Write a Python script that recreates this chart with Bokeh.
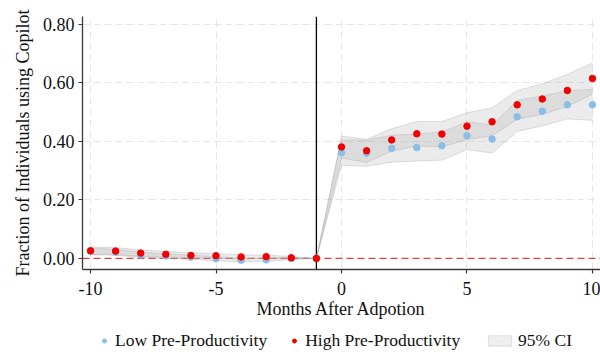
from bokeh.plotting import figure
from bokeh.layouts import column
from bokeh.models import (Range1d, FixedTicker, NumeralTickFormatter, Span,
                          Legend, LegendItem)
from bokeh.embed import file_html
from bokeh.resources import INLINE

# ---- data ----
months = [-10, -9, -8, -7, -6, -5, -4, -3, -2, -1,
          0, 1, 2, 3, 4, 5, 6, 7, 8, 9, 10]

low = [0.024, 0.021, 0.012, 0.008, 0.004, -0.001, -0.006, -0.005, 0.000, 0.0,
       0.361, 0.360, 0.376, 0.379, 0.385, 0.419, 0.408, 0.484, 0.503, 0.525, 0.525]
low_hi = [0.035, 0.031, 0.021, 0.016, 0.011, 0.006, 0.000, 0.001, 0.004, 0.0,
          0.405, 0.404, 0.421, 0.425, 0.432, 0.467, 0.456, 0.540, 0.555, 0.573, 0.578]
low_lo = [0.013, 0.011, 0.003, 0.000, -0.003, -0.008, -0.012, -0.011, -0.004, 0.0,
          0.318, 0.315, 0.329, 0.333, 0.336, 0.372, 0.360, 0.434, 0.453, 0.477, 0.472]

high = [0.026, 0.025, 0.018, 0.014, 0.010, 0.009, 0.005, 0.006, 0.002, 0.0,
        0.381, 0.368, 0.405, 0.426, 0.425, 0.452, 0.467, 0.525, 0.545, 0.574, 0.615]
high_hi = [0.039, 0.037, 0.029, 0.024, 0.019, 0.017, 0.012, 0.012, 0.006, 0.0,
           0.418, 0.407, 0.443, 0.468, 0.468, 0.498, 0.515, 0.574, 0.597, 0.629, 0.668]
high_lo = [0.013, 0.013, 0.007, 0.004, 0.001, 0.001, -0.002, 0.000, -0.002, 0.0,
           0.343, 0.328, 0.367, 0.384, 0.382, 0.406, 0.419, 0.476, 0.493, 0.519, 0.562]

x_ticks = [-10, -5, 0, 5, 10]
x_tick_labels = ["-10", "-5", "0", "5", "10"]
y_ticks = [0.0, 0.2, 0.4, 0.6, 0.8]
adoption_ref = -1

FONT = "Liberation Serif"
BLUE = "#89bee6"
RED = "#f00000"

p = figure(width=600, height=326, output_backend="svg", toolbar_location=None,
           x_range=Range1d(-10.32, 10.32), y_range=Range1d(-0.038, 0.827),
           min_border_left=82, min_border_right=0, min_border_top=16,
           min_border_bottom=57)
p.outline_line_color = None
p.background_fill_color = "white"
p.border_fill_color = "white"

# axes
for ax in (p.xaxis[0], p.yaxis[0]):
    ax.axis_line_color = "#3a3a3a"
    ax.axis_line_width = 1.3
    ax.major_tick_line_color = "#3a3a3a"
    ax.major_tick_line_width = 1.2
    ax.major_tick_out = 4
    ax.major_tick_in = 0
    ax.minor_tick_line_color = None
    ax.major_label_text_font = FONT
    ax.major_label_text_font_size = "18px"
    ax.major_label_text_color = "#111111"
    ax.axis_label_text_font = FONT
    ax.axis_label_text_font_size = "18px"
    ax.axis_label_text_font_style = "normal"
    ax.axis_label_text_color = "#111111"

p.xaxis[0].ticker = FixedTicker(ticks=x_ticks)
p.xaxis[0].major_label_overrides = dict(zip(x_ticks, x_tick_labels))
p.yaxis[0].ticker = FixedTicker(ticks=y_ticks)
p.yaxis[0].formatter = NumeralTickFormatter(format="0.00")
p.xaxis[0].axis_label = "Months After Adpotion"
p.yaxis[0].axis_label = "Fraction of Individuals using Copilot"
p.xaxis[0].major_label_standoff = 8
p.yaxis[0].major_label_standoff = 4
p.xaxis[0].axis_label_standoff = 1
p.yaxis[0].axis_label_standoff = 7

for g in (p.xgrid[0], p.ygrid[0]):
    g.grid_line_color = "#e6e6e6"
    g.grid_line_dash = "7 4"
    g.grid_line_width = 1

# reference lines
vline = Span(location=adoption_ref, dimension="height", line_color="black",
             line_width=1.3, level="underlay")
hline = Span(location=0, dimension="width", line_color="#e8413c",
             line_dash="7 4", line_width=1.3, level="underlay")
p.add_layout(vline)
p.add_layout(hline)

# confidence bands
for lo, hi in ((low_lo, low_hi), (high_lo, high_hi)):
    p.varea(x=months, y1=lo, y2=hi, fill_color="#afafaf", fill_alpha=0.25)
    p.line(x=months, y=hi, line_color="#9a9a9a", line_alpha=0.3, line_width=1)
    p.line(x=months, y=lo, line_color="#9a9a9a", line_alpha=0.3, line_width=1)

# points
p.scatter(x=months, y=low, size=6.5, fill_color=BLUE, line_color=BLUE)
p.scatter(x=months, y=high, size=6.5, fill_color=RED, line_color=RED)

# ---- legend strip (separate figure under the chart) ----
lg = figure(width=600, height=26, output_backend="svg", toolbar_location=None,
            x_axis_type=None, y_axis_type=None,
            x_range=Range1d(0, 1), y_range=Range1d(0, 1),
            min_border_left=0, min_border_right=0, min_border_top=0,
            min_border_bottom=0)
lg.outline_line_color = None
lg.xgrid.visible = False
lg.ygrid.visible = False

# legend-only renderers, kept outside the strip's visible range
leg_low = lg.scatter(x=[-5], y=[-5], size=5, fill_color=BLUE, line_color=BLUE)
leg_high = lg.scatter(x=[-5], y=[-5], size=5, fill_color=RED, line_color=RED)
leg_ci = lg.quad(left=[-6], right=[-5], top=[-5], bottom=[-6],
                 fill_color="#eeeeee", line_color="#dcdcdc", line_width=1)

common = dict(orientation="horizontal", border_line_color=None,
              background_fill_alpha=0, padding=0, margin=0,
              label_text_font=FONT, label_text_font_size="17.5px",
              label_text_color="#111111", label_height=20, glyph_height=13)

leg1 = Legend(items=[LegendItem(label="Low Pre-Productivity", renderers=[leg_low]),
                     LegendItem(label="High Pre-Productivity", renderers=[leg_high])],
              location=(17, 1), glyph_width=10, label_standoff=6, spacing=22,
              **common)
leg2 = Legend(items=[LegendItem(label="95% CI", renderers=[leg_ci])],
              location=(403, 1), glyph_width=29, label_standoff=4, spacing=0,
              **common)
lg.add_layout(leg1)
lg.add_layout(leg2)

layout = column(p, lg, spacing=0)
open("out.html", "w").write(file_html(layout, INLINE))
